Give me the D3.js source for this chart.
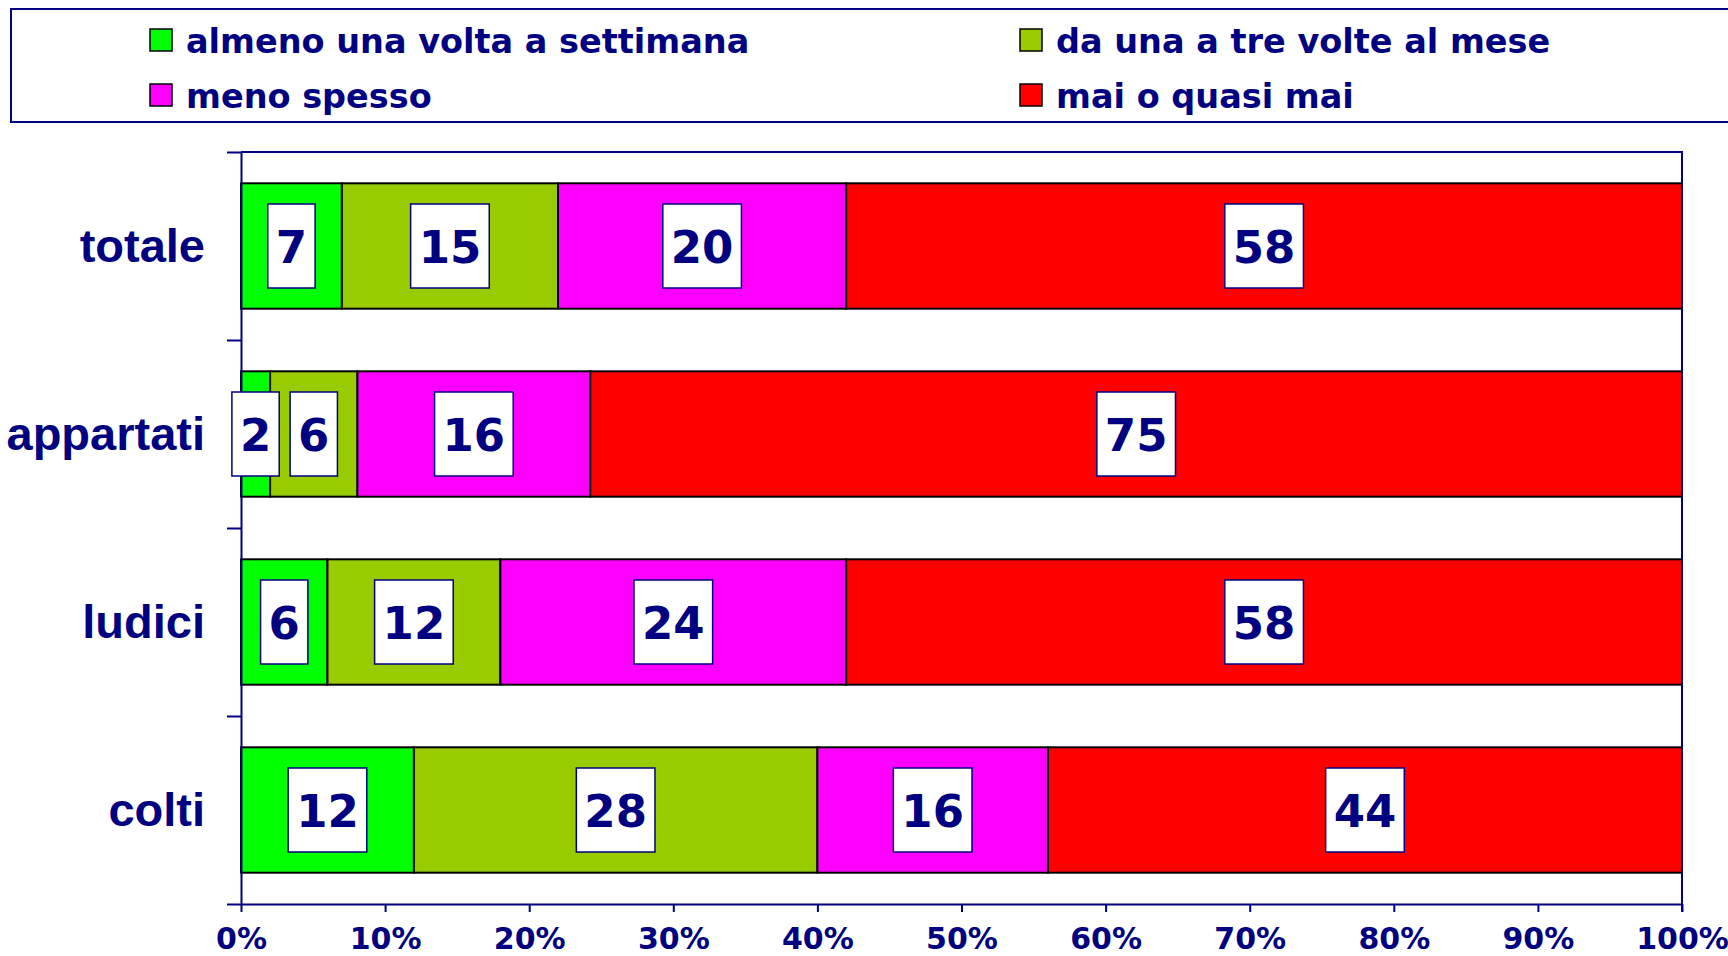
<!DOCTYPE html>
<html>
<head>
<meta charset="utf-8">
<script src="https://cdn.jsdelivr.net/npm/d3@7"></script>
<style>
  body { margin: 0; background: #fff; }
  svg { display: block; }
</style>
</head>
<body>
<svg width="1728" height="956"></svg>
<script>
const categories = ["totale", "appartati", "ludici", "colti"];
const seriesNames = ["almeno una volta a settimana", "da una a tre volte al mese", "meno spesso", "mai o quasi mai"];
const almeno = [7, 2, 6, 12];
const daUnaATre = [15, 6, 12, 28];
const menoSpesso = [20, 16, 24, 16];
const maiQuasiMai = [58, 75, 58, 44];
const xTicks = [0, 10, 20, 30, 40, 50, 60, 70, 80, 90, 100];
const colors = ["#00ff00", "#99cc00", "#ff00ff", "#ff0000"];

const navy = "#000080";
const svg = d3.select("svg");

// rows for the stack (percentages, each row scaled to 100)
const series = [almeno, daUnaATre, menoSpesso, maiQuasiMai];
const rows = categories.map((c, i) => {
  const row = { cat: c };
  const tot = d3.sum(series, s => s[i]);
  series.forEach((s, j) => { row["s" + j] = s[i] / tot * 100; row["v" + j] = s[i]; });
  return row;
});
const keys = series.map((s, j) => "s" + j);
const stacked = d3.stack().keys(keys)(rows);

const x = d3.scaleLinear().domain([0, 100]).range([241, 1682]);
const y = d3.scaleBand().domain(categories).range([152, 904]).paddingInner(0.333).paddingOuter(0.1665);

// legend
const legend = svg.append("g");
legend.append("rect")
  .attr("x", 11).attr("y", 9).attr("width", 1740).attr("height", 113)
  .attr("fill", "none").attr("stroke", navy).attr("stroke-width", 2);
const legPos = [[150, 29], [1020, 29], [150, 84], [1020, 84]];
seriesNames.forEach((name, k) => {
  const [lx, ly] = legPos[k];
  legend.append("rect")
    .attr("x", lx).attr("y", ly).attr("width", 22).attr("height", 22)
    .attr("fill", colors[k]).attr("stroke", "#000").attr("stroke-width", 1.5);
  legend.append("text")
    .attr("x", lx + 36).attr("y", ly + 24)
    .attr("font-family", "DejaVu Sans").attr("font-weight", "bold")
    .attr("font-size", 33.5).attr("fill", navy)
    .text(name);
});

// bars
const layers = svg.append("g").selectAll("g")
  .data(stacked).enter().append("g")
  .attr("fill", (d, i) => colors[i]);
layers.selectAll("rect")
  .data(d => d).enter().append("rect")
  .attr("x", d => x(d[0]))
  .attr("y", d => y(d.data.cat))
  .attr("width", d => x(d[1]) - x(d[0]))
  .attr("height", y.bandwidth())
  .attr("stroke", "#000").attr("stroke-width", 2);

// axes
const xAxis = svg.append("g")
  .attr("transform", "translate(0,904)")
  .call(d3.axisBottom(x).tickValues(xTicks).tickSize(8).tickSizeOuter(0).tickFormat(d => d + "%"));
xAxis.select(".domain").attr("stroke", navy).attr("stroke-width", 2);
xAxis.selectAll(".tick line").attr("stroke", navy).attr("stroke-width", 2);
xAxis.selectAll(".tick text")
  .attr("y", 45).attr("dy", 0)
  .attr("font-family", "DejaVu Sans").attr("font-weight", "bold")
  .attr("font-size", 30).attr("fill", navy);

const yEdges = d3.scaleLinear().domain([0, categories.length]).range([152, 904]);
const yAxis = svg.append("g")
  .attr("transform", "translate(241,0)")
  .call(d3.axisLeft(yEdges).ticks(categories.length).tickSize(14).tickSizeOuter(0).tickFormat(""));
yAxis.select(".domain").attr("stroke", navy).attr("stroke-width", 2);
yAxis.selectAll(".tick line").attr("stroke", navy).attr("stroke-width", 2);

svg.append("g").selectAll("text")
  .data(categories).enter().append("text")
  .attr("x", 205)
  .attr("y", d => y(d) + y.bandwidth() / 2)
  .attr("dy", "0.33em")
  .attr("text-anchor", "end")
  .attr("font-family", "Liberation Sans, Arial").attr("font-weight", "bold")
  .attr("font-size", 47).attr("fill", navy)
  .text(d => d);

// plot frame top and right
svg.append("path")
  .attr("d", `M${x(0)},152H${x(100)}V912`)
  .attr("fill", "none").attr("stroke", navy).attr("stroke-width", 2);

// value labels in boxes
const labels = svg.append("g");
stacked.forEach((layer, j) => {
  layer.forEach(d => {
    const cx = x((d[0] + d[1]) / 2);
    const cy = y(d.data.cat) + y.bandwidth() / 2;
    const g = labels.append("g");
    const box = g.append("rect");
    const t = g.append("text")
      .attr("x", cx).attr("y", cy).attr("dy", "0.37em")
      .attr("text-anchor", "middle")
      .attr("font-family", "DejaVu Sans").attr("font-weight", "bold")
      .attr("font-size", 45).attr("fill", navy)
      .text(d.data["v" + j]);
    const w = t.node().getComputedTextLength() + 16;
    box.attr("x", cx - w / 2).attr("y", cy - 42)
      .attr("width", w).attr("height", 84)
      .attr("fill", "#fff").attr("stroke", navy).attr("stroke-width", 1.5);
  });
});
</script>
</body>
</html>
